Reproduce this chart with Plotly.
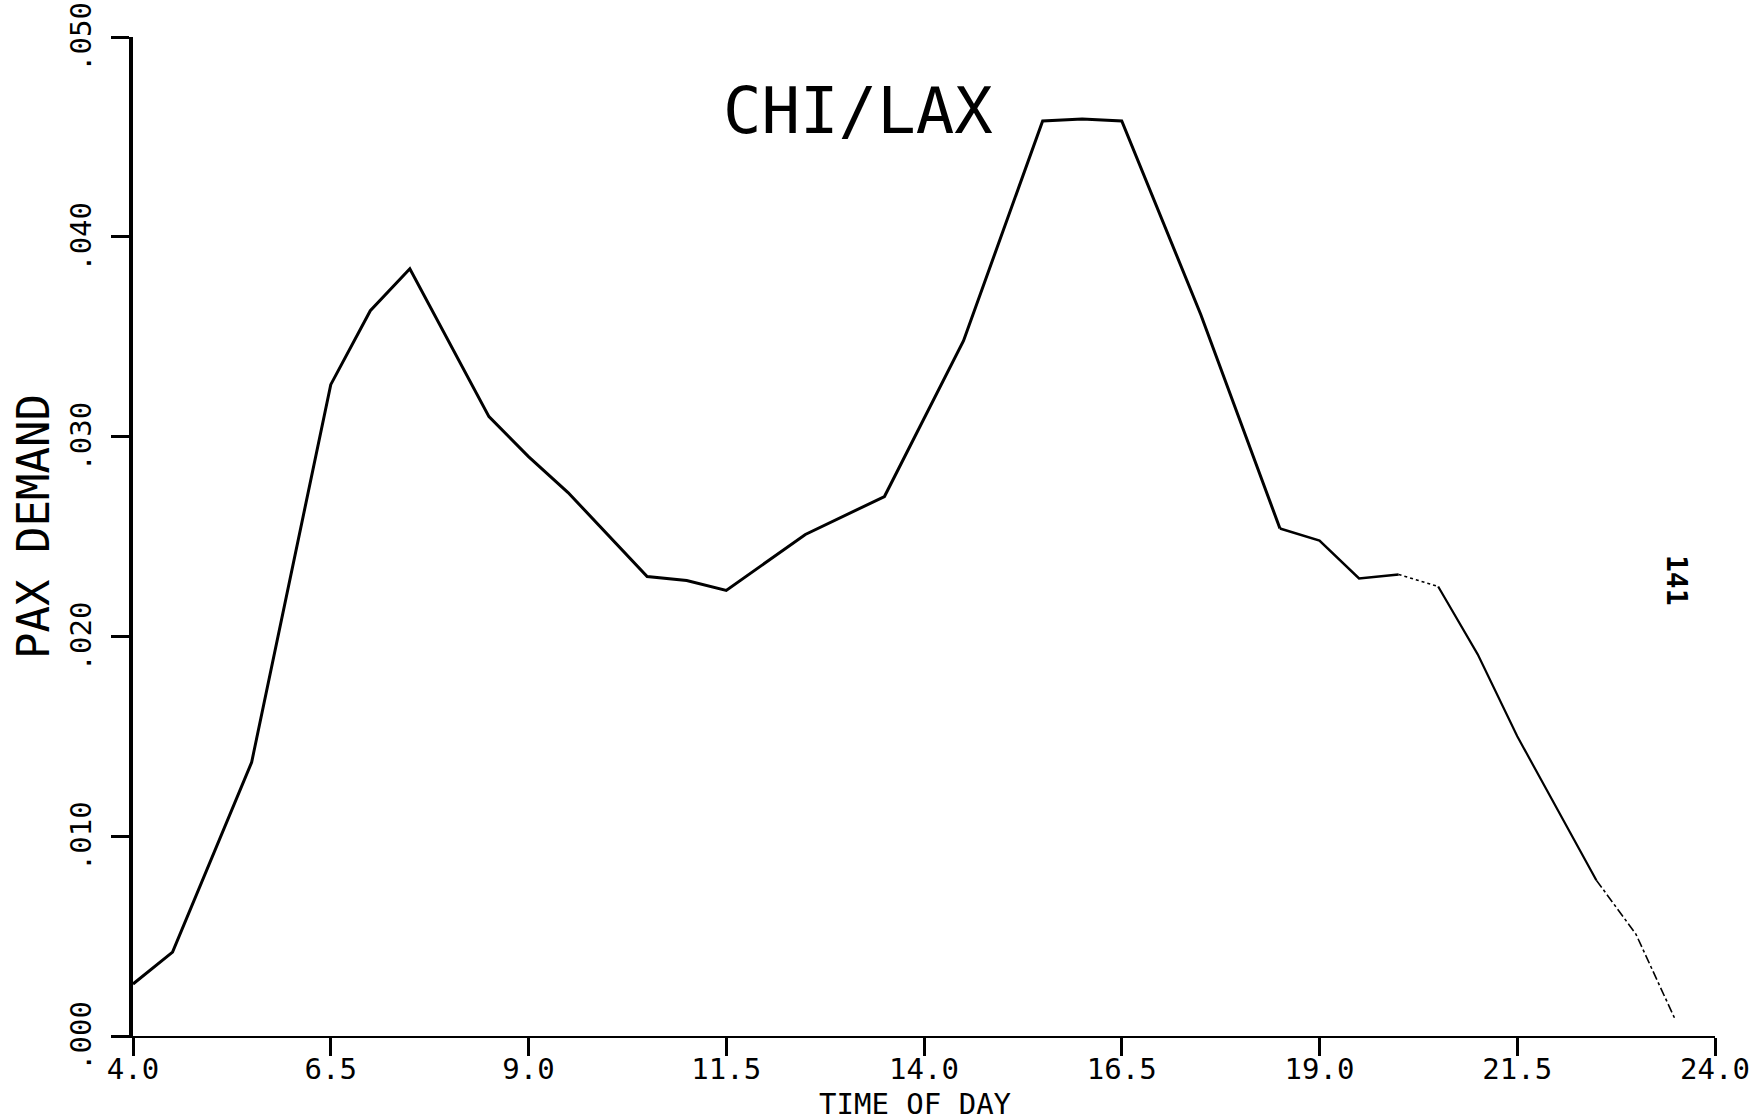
import plotly.graph_objects as go

# Share of daily passenger demand by time of day, CHI -> LAX
hours = [4.0, 4.5, 5.5, 6.5, 7.0, 7.5, 8.5, 9.0, 9.5, 10.5, 11.0, 11.5,
         12.5, 13.5, 14.5, 15.5, 16.0, 16.5, 17.5, 18.5, 19.0, 19.5,
         20.0, 20.5, 21.0, 21.5, 22.5, 23.0, 23.5]
demand = [0.0026, 0.0042, 0.0137, 0.0326, 0.0363, 0.0384, 0.0310, 0.0290,
          0.0272, 0.0230, 0.0228, 0.0223, 0.0251, 0.0270, 0.0348, 0.0458,
          0.0459, 0.0458, 0.0361, 0.0254, 0.0248, 0.0229, 0.0231, 0.0225,
          0.0191, 0.0150, 0.0078, 0.0051, 0.0008]

x_tick_vals = [4.0, 6.5, 9.0, 11.5, 14.0, 16.5, 19.0, 21.5, 24.0]
x_tick_text = ["4.0", "6.5", "9.0", "11.5", "14.0", "16.5", "19.0", "21.5", "24.0"]
y_tick_vals = [0.0, 0.01, 0.02, 0.03, 0.04, 0.05]
y_tick_text = [".000", ".010", ".020", ".030", ".040", ".050"]

title_text = "CHI/LAX"
x_title = "TIME OF DAY"
y_title = "PAX DEMAND"
page_number = "141"

# Pen strokes of the plotter: (from hour, to hour, width, dash)
strokes = [
    (4.0, 18.5, 3.0, "solid"),
    (18.5, 20.0, 2.5, "solid"),
    (20.0, 20.5, 1.6, "dot"),
    (20.5, 22.5, 2.2, "solid"),
    (22.5, 23.5, 1.6, "dashdot"),
]

W, H = 1762, 1120
L, R, T, B = 133, 1715, 37, 1036
FONT = "DejaVu Sans Mono, Liberation Mono, monospace"


def paper_x(px):
    return (px - L) / (R - L)


def paper_y(py):
    return (B - py) / (B - T)


fig = go.Figure()
for h0, h1, w, dash in strokes:
    i0, i1 = hours.index(h0), hours.index(h1)
    fig.add_trace(go.Scatter(
        x=hours[i0:i1 + 1], y=demand[i0:i1 + 1], mode="lines",
        line=dict(color="black", width=w, dash=dash),
        hoverinfo="skip", showlegend=False,
    ))

annotations = [
    dict(text=title_text, x=paper_x(858), y=paper_y(111), yref="paper",
         font=dict(family=FONT, size=64, color="black")),
    dict(text=x_title, x=paper_x(915), y=paper_y(1104), yref="paper",
         font=dict(family=FONT, size=29, color="black")),
    dict(text=y_title, x=paper_x(33), y=paper_y(527), yref="paper", textangle=-90,
         font=dict(family=FONT, size=44, color="black")),
    dict(text="<b>" + page_number + "</b>", x=paper_x(1677), y=paper_y(580),
         yref="paper", textangle=90,
         font=dict(family=FONT, size=28, color="black")),
]
# Rotated value labels of the vertical axis, centred on their ticks
for val, txt in zip(y_tick_vals, y_tick_text):
    annotations.append(dict(text=txt, x=paper_x(81), y=val, yref="y", textangle=-90,
                            font=dict(family=FONT, size=29, color="black")))
for a in annotations:
    a.update(xref="paper", xanchor="center", yanchor="middle", showarrow=False)

fig.update_layout(
    width=W, height=H,
    margin=dict(l=L, r=W - R, t=T, b=H - B, pad=0, autoexpand=False),
    paper_bgcolor="white", plot_bgcolor="white",
    showlegend=False,
    annotations=annotations,
    xaxis=dict(
        range=[4, 24], tickmode="array", tickvals=x_tick_vals, ticktext=x_tick_text,
        ticks="outside", ticklen=18, tickwidth=2.5, tickcolor="black",
        showline=True, linecolor="black", linewidth=2,
        showgrid=False, zeroline=False, automargin=False,
        ticklabelstandoff=-12, ticklabeloverflow="allow",
        tickfont=dict(family=FONT, size=29, color="black"),
    ),
    yaxis=dict(
        range=[0, 0.05], tickmode="array", tickvals=y_tick_vals,
        ticks="outside", ticklen=18, tickwidth=2.5, tickcolor="black",
        showline=True, linecolor="black", linewidth=4, showticklabels=False,
        showgrid=False, zeroline=False, automargin=False,
    ),
)

fig.write_html("out.html")
